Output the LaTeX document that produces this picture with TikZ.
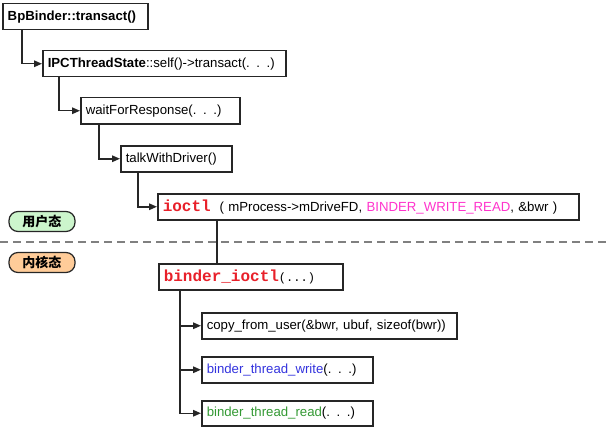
\documentclass[tikz,border=0pt]{standalone}
\usepackage{fontspec}
\setmainfont{Liberation Sans}
\setmonofont{Liberation Mono}
\newfontfamily\cjk{Noto Sans CJK SC}
\usetikzlibrary{arrows.meta,calc}
\definecolor{fnred}{HTML}{E8202A}
\definecolor{fnmag}{HTML}{FF33CC}
\definecolor{fnblue}{HTML}{3333DD}
\definecolor{fngreen}{HTML}{339933}
\definecolor{pillgreen}{HTML}{CCF5CC}
\definecolor{pillorange}{HTML}{FFCC99}
\definecolor{edge}{HTML}{262626}
\begin{document}
\begin{tikzpicture}[x=1pt,y=-1pt,
  box/.style={draw=edge, line width=1.5pt, anchor=north west, align=left,
    inner xsep=5pt, inner ysep=0pt, minimum height=26pt,
    font=\fontsize{13.2}{15}\selectfont},
  arr/.style={draw=edge, line width=1.5pt, -{Triangle[length=8pt,width=6.5pt]}},
  ln/.style={draw=edge, line width=1.5pt},
  pill/.style={draw=edge, line width=1.2pt, rounded corners=9pt, minimum width=66pt,
    minimum height=20pt, inner sep=0pt, font=\cjk\bfseries\fontsize{13}{15}\selectfont},
  bigmono/.style={}]
\useasboundingbox (0,0) rectangle (611,428);
\node[box, text width=135pt] (b1) at (2,3) {\bfseries BpBinder::transact()};
\node[box, text width=233pt] (b2) at (42,50) {{\bfseries IPCThreadState}::self()->transact(. . .)};
\node[box, text width=149pt] (b3) at (80,97) {waitForResponse(. . .)};
\node[box, text width=101pt] (b4) at (120,145) {talkWithDriver()};
\node[box, text width=411pt] (b5) at (157,193) {{\ttfamily\bfseries\color{fnred}\fontsize{16}{18}\selectfont ioctl}\ \ ( mProcess->mDriveFD, {\color{fnmag}BINDER\_WRITE\_READ}, \&bwr )};
\node[box, text width=174pt] (b6) at (158,263) {{\ttfamily\bfseries\color{fnred}\fontsize{16}{18}\selectfont binder\_ioctl}{\ttfamily\fontsize{12}{14}\selectfont (...)}};
\node[box, text width=245pt] (c1) at (201,312) {copy\_from\_user(\&bwr, ubuf, sizeof(bwr))};
\node[box, text width=161pt] (c2) at (201,356) {{\color{fnblue}binder\_thread\_write}(. . .)};
\node[box, text width=161pt, minimum height=25pt] (c3) at (201,400) {{\color{fngreen}binder\_thread\_read}(. . .)};
\node[pill, fill=pillgreen] (u) at (42,221.5) {用户态};
\node[pill, fill=pillorange] (k) at (42,262.5) {内核态};
\draw[gray, line width=1.8pt, dash pattern=on 8pt off 5pt] (0,242) -- (611,242);
\draw[arr] ($(b1.south west)+(20,0)$) |- (b2.west);
\draw[arr] ($(b2.south west)+(17,0)$) |- (b3.west);
\draw[arr] ($(b3.south west)+(19,0)$) |- (b4.west);
\draw[arr] ($(b4.south west)+(18,0)$) |- (b5.west);
\draw[ln] ($(b5.south west)+(60,0)$) -- ($(b6.north west)+(59,0)$);
\coordinate (t) at ($(b6.south west)+(22,0)$);
\draw[arr] (t) |- (c1.west);
\draw[arr] (t) |- (c2.west);
\draw[arr] (t) |- (c3.west);
\end{tikzpicture}
\end{document}
